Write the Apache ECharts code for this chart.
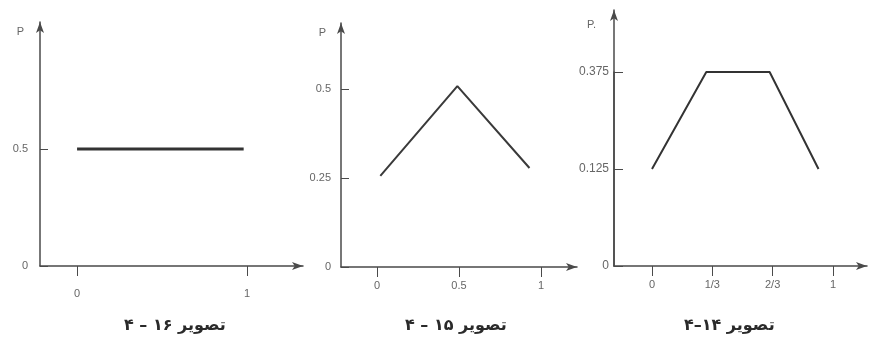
<!DOCTYPE html>
<html>
<head>
<meta charset="utf-8">
<script src="https://cdn.jsdelivr.net/npm/echarts@6/dist/echarts.min.js"></script>
<style>
  html, body { margin: 0; padding: 0; background: #fff; }
  #chart { width: 869px; height: 350px; }
</style>
</head>
<body>
<div id="chart"></div>
<script>
// panel 1 (تصویر ۱۶ – ۴)
var p1X = [0, 0.98]
var p1Y = [0.5, 0.5]
var p1XTicks = [0, 1]
var p1YTicks = [0, 0.5]

// panel 2 (تصویر ۱۵ – ۴)
var p2X = [0.02, 0.49, 0.93]
var p2Y = [0.256, 0.508, 0.278]
var p2XTicks = [0, 0.5, 1]
var p2YTicks = [0, 0.25, 0.5]

// panel 3 (تصویر ۱۴–۴), y axis is drawn not to scale in the source
var p3X = [0, 0.30, 0.65, 0.92]
var p3Y = ['0.125', '0.375', '0.375', '0.125']
var p3XTicks = [0, 1 / 3, 2 / 3, 1]
var p3XTickLabels = ['0', '1/3', '2/3', '1']
var p3YCats = ['0', '0.125', '0.375']

var titles = ['تصویر ۱۶ – ۴', 'تصویر ۱۵ – ۴', 'تصویر ۱۴–۴']

var axisColor = '#4a4a4a'
var labelStyle = { color: '#666', fontSize: 11, fontFamily: 'Liberation Sans' }
var arrowLine = { show: true, onZero: false, symbol: ['none', 'arrow'], symbolSize: [6, 11], lineStyle: { color: axisColor, width: 1.5 } }

function fmt(v) { return String(v) }

function xAxisFor(gridIndex, min, max, ticks, labels, margin) {
    return {
        type: 'value', gridIndex: gridIndex, min: min, max: max,
        splitLine: { show: false },
        axisLine: arrowLine,
        axisTick: { show: true, length: 10, customValues: ticks, lineStyle: { color: axisColor } },
        axisLabel: Object.assign({
            margin: margin, customValues: ticks,
            formatter: function (v) {
                var i = ticks.findIndex(function (t) { return Math.abs(t - v) < 1e-6 })
                return labels ? labels[i] : fmt(v)
            }
        }, labelStyle)
    }
}

function yNameAxis(gridIndex, max, ticks, margin, nameGap, padRight, name) {
    return {
        type: 'value', gridIndex: gridIndex, min: 0, max: max,
        name: name, nameLocation: 'end', nameGap: nameGap,
        nameTextStyle: { color: '#666', fontSize: 11, fontFamily: 'Liberation Sans', align: 'right', verticalAlign: 'middle', padding: [0, padRight, 0, 0] },
        splitLine: { show: false },
        axisLine: arrowLine,
        axisTick: { show: ticks.length > 0, inside: true, length: 8, customValues: ticks, lineStyle: { color: axisColor } },
        axisLabel: Object.assign({ show: ticks.length > 0, margin: margin, customValues: ticks, formatter: fmt }, labelStyle)
    }
}

var chart = echarts.init(document.getElementById('chart'))
chart.setOption({
    animation: false,
    title: titles.map(function (t, i) {
        return {
            text: t, left: [124, 405, 684][i], top: 318, padding: 0,
            textStyle: { fontFamily: 'DejaVu Sans', fontWeight: 'bold', fontSize: 16, color: '#2a2a2a' }
        }
    }),
    grid: [
        { left: 40, top: 22, right: 566, bottom: 84 },
        { left: 341, top: 23, right: 292, bottom: 83 },
        { left: 614, top: 72, right: 2, bottom: 84 },
        // only carries the tall y axis line of panel 3
        { left: 614, top: 10, right: 2, bottom: 84 }
    ],
    xAxis: [
        xAxisFor(0, -0.218, 1.329, p1XTicks, null, 22),
        xAxisFor(1, -0.22, 1.22, p2XTicks, null, 13),
        xAxisFor(2, -0.21, 1.188, p3XTicks, p3XTickLabels, 13),
        { type: 'value', gridIndex: 3, min: 0, max: 1, show: false }
    ],
    yAxis: [
        yNameAxis(0, 1.043, p1YTicks, 12, -10, 16, 'P'),
        yNameAxis(1, 0.685, p2YTicks, 10, -10, 15, 'P'),
        {
            type: 'category', gridIndex: 2, data: p3YCats, boundaryGap: false,
            splitLine: { show: false },
            axisLine: { show: true, onZero: false, lineStyle: { color: axisColor, width: 1.5 } },
            axisTick: { show: true, inside: true, length: 9, interval: 0, lineStyle: { color: axisColor } },
            axisLabel: Object.assign({ margin: 5, interval: 0 }, labelStyle, { fontSize: 12 })
        },
        yNameAxis(3, 1, [], 5, -15, 18, 'P.')
    ],
    series: [
        { type: 'line', xAxisIndex: 0, yAxisIndex: 0, symbol: 'none', lineStyle: { color: '#333', width: 3 },
          data: p1X.map(function (x, i) { return [x, p1Y[i]] }) },
        { type: 'line', xAxisIndex: 1, yAxisIndex: 1, symbol: 'none', lineStyle: { color: '#3a3a3a', width: 2 },
          data: p2X.map(function (x, i) { return [x, p2Y[i]] }) },
        { type: 'line', xAxisIndex: 2, yAxisIndex: 2, symbol: 'none', lineStyle: { color: '#333', width: 2 },
          data: p3X.map(function (x, i) { return [x, p3Y[i]] }) }
    ]
})
</script>
</body>
</html>
